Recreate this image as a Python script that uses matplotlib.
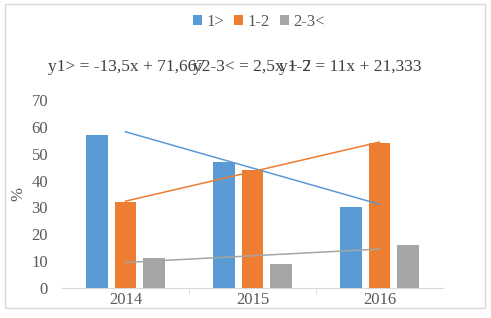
import matplotlib.pyplot as plt
import numpy as np
from matplotlib.patches import Rectangle

years = ['2014', '2015', '2016']
series = ['1>', '1-2', '2-3<']
v_lt1 = [57, 47, 30]
v_1_2 = [32, 44, 54]
v_2_3 = [11, 9, 16]
colors = ['#5B9BD5', '#ED7D31', '#A5A5A5']

plt.rcParams['font.family'] = ['Liberation Serif', 'DejaVu Serif']
txt = '#595959'

fig = plt.figure(figsize=(4.91, 3.18), dpi=100)
ax = fig.add_axes([62 / 491, 1 - 288 / 318, 381 / 491, 188 / 318])

x = np.arange(len(years))
w = 0.173
off = 0.224
values = [v_lt1, v_1_2, v_2_3]
for i, (name, vals, c) in enumerate(zip(series, values, colors)):
    ax.bar(x + (i - 1) * off, vals, w, color=c, label=name)

# linear trend lines (Excel style: x = 1..3)
xs = np.arange(1, len(years) + 1)
eqs = []
for vals, c in zip(values, colors):
    k, b = np.polyfit(xs, vals, 1)
    ax.plot(x, k * xs + b, color=c, lw=1.1)
    eqs.append((k, b))

ax.set_xlim(-0.5, 2.5)
ax.set_ylim(0, 70)
ax.set_yticks(range(0, 71, 10))
ax.set_xticks(x)
ax.set_xticklabels(years)
ax.set_xticks([0.5, 1.5], minor=True)
ax.tick_params(axis='x', which='major', length=0, pad=3, labelsize=12, colors=txt)
ax.tick_params(axis='x', which='minor', length=4, color='#D9D9D9', direction='out')
ax.tick_params(axis='y', length=0, pad=10, labelsize=12, colors=txt)
for s in ['top', 'right', 'left']:
    ax.spines[s].set_visible(False)
ax.spines['bottom'].set_color('#D9D9D9')
ax.set_ylabel('%', fontsize=12, color=txt, labelpad=4)

def fmt(v):
    s = ('%.3f' % v).rstrip('0').rstrip('.')
    return s.replace('.', ',')

# trendline labels overlap in the original, keep that
labels = [
    ('y1> = %sx + %s' % (fmt(eqs[0][0]), fmt(eqs[0][1])), 48),
    ('y2-3< = %sx + %s' % (fmt(eqs[2][0]), fmt(eqs[2][1])), 193),
    ('y1-2 = %sx + %s' % (fmt(eqs[1][0]), fmt(eqs[1][1])), 279),
]
for t, px in labels:
    fig.text(px / 491, 1 - 67 / 318, t, fontsize=12.5, color='#404040',
             ha='left', va='center')

fig.legend(loc='center', bbox_to_anchor=(259 / 491, 1 - 22 / 318), ncol=3,
           frameon=False, fontsize=12, handlelength=0.55, handleheight=0.55,
           handletextpad=0.25, columnspacing=0.6, labelcolor=txt)

fig.patches.append(Rectangle((5 / 491, 1 - 308 / 318), 480 / 491, 304 / 318,
                             transform=fig.transFigure, fill=False,
                             edgecolor='#D9D9D9', lw=1))

fig.savefig('out.png', dpi=100)
